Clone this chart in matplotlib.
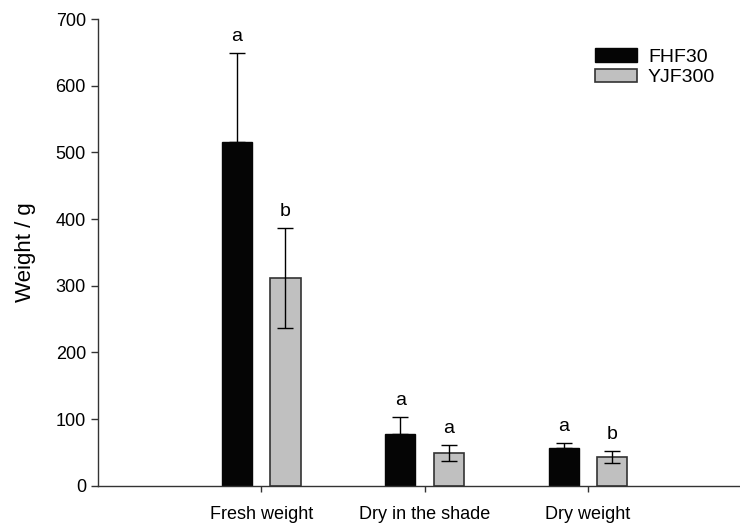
import numpy as np
import matplotlib
matplotlib.use("Agg")
import matplotlib.pyplot as plt

plt.rcParams['font.family'] = ['Liberation Sans', 'DejaVu Sans']

# data
groups = ['Fresh weight', 'Dry in the shade', 'Dry weight']
fhf30 = [516, 77.5, 56]
fhf30_err = [133, 25, 8]
yjf300 = [311, 48.5, 42.5]
yjf300_err = [75, 12, 9]
fhf30_letters = ['a', 'a', 'a']
yjf300_letters = ['b', 'a', 'b']

x = np.arange(1, len(groups) + 1)
width = 0.184
offset = 0.149

fig = plt.figure(figsize=(7.40, 5.27), dpi=100)
ax = fig.add_axes([97.7 / 740, (527 - 485.7) / 527, 1 - 97.7 / 740, (485.7 - 19) / 527])

ax.bar(x - offset, fhf30, width, color='#050505', edgecolor='#050505', linewidth=1, label='FHF30', zorder=2)
ax.bar(x + offset, yjf300, width, color='#c0c0c0', edgecolor='#333333', linewidth=1.2, label='YJF300', zorder=2)
# black bars only show the upper half of the error bar
ax.errorbar(x - offset, fhf30, yerr=[np.zeros(len(fhf30)), fhf30_err], fmt='none', ecolor='black',
            elinewidth=1, capsize=6, capthick=1, zorder=1)
ax.errorbar(x + offset, yjf300, yerr=yjf300_err, fmt='none', ecolor='black', elinewidth=1,
            capsize=6, capthick=1, zorder=3)

for i in range(len(groups)):
    ax.annotate(fhf30_letters[i], (x[i] - offset, fhf30[i] + fhf30_err[i]), xytext=(0, 6),
                textcoords='offset points', ha='center', va='bottom', fontsize=14)
    ax.annotate(yjf300_letters[i], (x[i] + offset, yjf300[i] + yjf300_err[i]), xytext=(0, 6),
                textcoords='offset points', ha='center', va='bottom', fontsize=14)

ax.set_xlim(0, 3.93)
ax.set_ylim(0, 700)
ax.set_yticks(range(0, 701, 100))
ax.set_xticks(x)
ax.set_xticklabels(groups, fontsize=13)
ax.tick_params(axis='y', labelsize=13, direction='out', length=5, width=1, color='#333333')
ax.tick_params(axis='x', direction='out', length=4.5, width=1, color='#333333', pad=10)
ax.set_ylabel('Weight / g', fontsize=16, labelpad=14)

for side in ['top', 'right']:
    ax.spines[side].set_visible(False)
for side in ['left', 'bottom']:
    ax.spines[side].set_color('#333333')
    ax.spines[side].set_linewidth(1)

ax.legend(loc='upper left', bbox_to_anchor=(0.774, 0.937), frameon=False, fontsize=14,
          borderaxespad=0, borderpad=0, handlelength=2.16, handleheight=0.67,
          labelspacing=0.15, handletextpad=0.57)

fig.savefig('out.png', dpi=100)
